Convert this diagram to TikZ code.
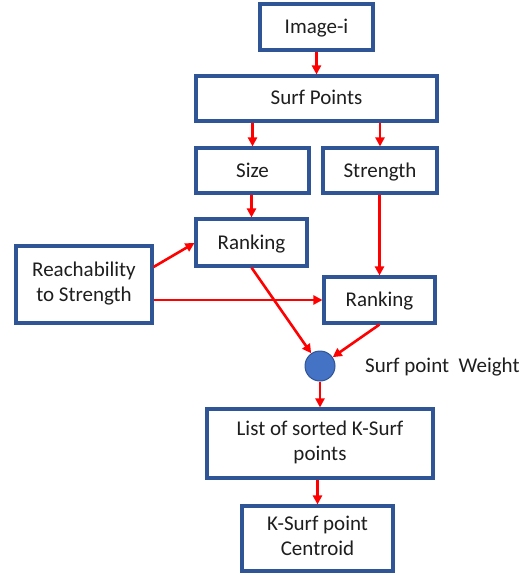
\documentclass[tikz,border=0pt]{standalone}
\usepackage{fontspec}
\setmainfont{Carlito}
\usetikzlibrary{arrows.meta}
\definecolor{boxblue}{HTML}{2F5597}
\definecolor{circfill}{HTML}{4472C4}
\definecolor{txt}{HTML}{1E1E1E}
\newcommand\boxstrut{\rule[-6pt]{0pt}{25pt}}
\tikzset{
  box/.style={draw=boxblue, line width=3.1pt, fill=white, text=txt, align=center, inner sep=0pt,
    font=\fontsize{21}{25}\selectfont, execute at begin node=\boxstrut},
  arr/.style={draw=red, line width=2.6pt, -{Triangle[length=9pt,width=9pt]}},
}
\begin{document}
\begin{tikzpicture}[x=1pt,y=-1pt]
\useasboundingbox (0,0) rectangle (531,575);
\node[box, minimum width=113pt, minimum height=46pt] (img) at (316.5,27) {Image-i};
\node[box, minimum width=241pt, minimum height=45pt] (surf) at (316.5,98.5) {Surf Points};
\node[box, minimum width=113pt, minimum height=45pt] (size) at (252.5,170.5) {Size};
\node[box, minimum width=114pt, minimum height=45pt] (strength) at (380,170.5) {Strength};
\node[box, minimum width=111pt, minimum height=47pt] (rank1) at (251.5,242.5) {Ranking};
\node[box, minimum width=136pt, minimum height=77pt] (reach) at (84,284.5) {Reachability\\\boxstrut to Strength};
\node[box, minimum width=111pt, minimum height=46pt] (rank2) at (379.5,300) {Ranking};
\node[circle, draw=boxblue, line width=1pt, fill=circfill, minimum size=30pt, inner sep=0pt] (circ) at (320,366) {};
\node[anchor=west, text=txt, font=\fontsize{21}{25}\selectfont, inner sep=0pt] (weight) at (365,367) {Surf point\ \ Weight};
\node[box, minimum width=226pt, minimum height=69pt] (list) at (320,443.5) {List of sorted K-Surf\\\boxstrut points};
\node[box, minimum width=151pt, minimum height=65pt] (ksurf) at (317.5,538.5) {K-Surf point\\\boxstrut Centroid};

\draw[arr] (img.south) -- (surf.north);
\draw[arr] (surf.south -| size) -- (size.north);
\draw[arr] (surf.south -| strength) -- (strength.north);
\draw[arr] (size.south -| rank1) -- (rank1.north);
\draw[arr] (strength.south -| rank2) -- (rank2.north);
\draw[arr] ([yshift=17.5pt]reach.east) -- ([yshift=-0.5pt]rank1.west);
\draw[arr] (reach.east |- rank2) -- (rank2.west);
\draw[arr] (rank1.south) -- (circ);
\draw[arr] (rank2.south) -- (circ);
\draw[arr] (circ.south) -- (list.north);
\draw[arr] (list.south -| ksurf) -- (ksurf.north);
\end{tikzpicture}
\end{document}
